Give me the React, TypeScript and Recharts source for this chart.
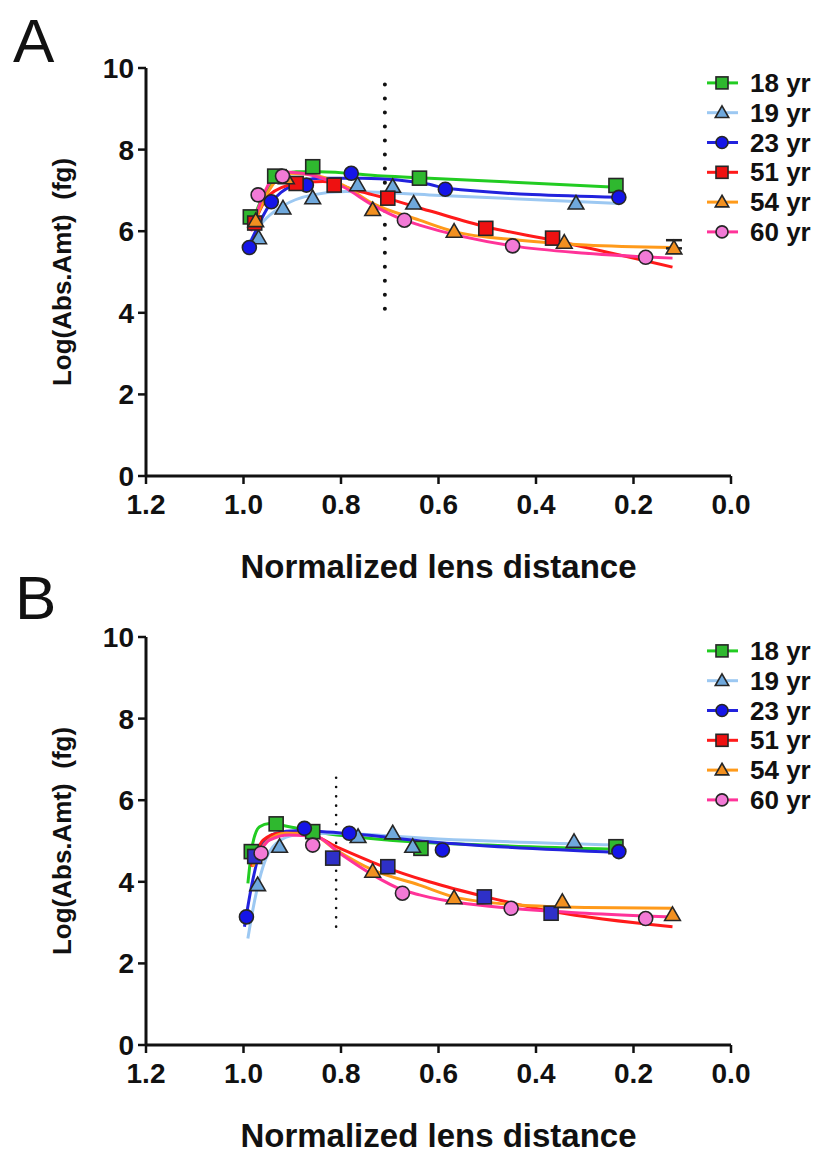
import React from 'react';
import { ComposedChart, Line, Scatter, XAxis, YAxis, ReferenceLine, ErrorBar, Label } from 'recharts';

type P = { x: number; y: number; err?: number[] };

// ---------- shared axis / legend data ----------
const xTicks = [1.2, 1.0, 0.8, 0.6, 0.4, 0.2, 0.0];
const yTicks = [0, 2, 4, 6, 8, 10];
const seriesNames = ['18 yr', '19 yr', '23 yr', '51 yr', '54 yr', '60 yr'];

// ---------- Panel A: measured points ----------
const a18: P[] = [{ x: 0.986, y: 6.35 }, { x: 0.936, y: 7.35 }, { x: 0.858, y: 7.58 }, { x: 0.639, y: 7.3 }, { x: 0.236, y: 7.12 }];
const a19: P[] = [{ x: 0.969, y: 5.83 }, { x: 0.919, y: 6.56 }, { x: 0.858, y: 6.81 }, { x: 0.766, y: 7.13 }, { x: 0.694, y: 7.09 }, { x: 0.651, y: 6.68 }, { x: 0.318, y: 6.68 }];
const a23: P[] = [{ x: 0.988, y: 5.6 }, { x: 0.943, y: 6.72 }, { x: 0.871, y: 7.13 }, { x: 0.779, y: 7.42 }, { x: 0.586, y: 7.03 }, { x: 0.23, y: 6.83 }];
const a51: P[] = [{ x: 0.977, y: 6.2 }, { x: 0.892, y: 7.17 }, { x: 0.814, y: 7.13 }, { x: 0.704, y: 6.81 }, { x: 0.503, y: 6.07 }, { x: 0.366, y: 5.83 }];
const a54: P[] = [{ x: 0.975, y: 6.25 }, { x: 0.912, y: 7.3 }, { x: 0.735, y: 6.52 }, { x: 0.568, y: 5.99 }, { x: 0.342, y: 5.72 }, { x: 0.117, y: 5.58 }];
const a60: P[] = [{ x: 0.97, y: 6.89 }, { x: 0.92, y: 7.35 }, { x: 0.67, y: 6.27 }, { x: 0.448, y: 5.64 }, { x: 0.175, y: 5.36 }];
const aErr: P[] = [{ x: 0.117, y: 5.58, err: [0, 0.2] }];

// ---------- Panel A: fitted curves ----------
const c18: P[] = [{ x: 0.988, y: 6.03 }, { x: 0.96, y: 6.85 }, { x: 0.926, y: 7.3 }, { x: 0.892, y: 7.46 }, { x: 0.844, y: 7.46 }, { x: 0.715, y: 7.35 }, { x: 0.619, y: 7.3 }, { x: 0.236, y: 7.08 }];
const c19: P[] = [{ x: 0.991, y: 5.66 }, { x: 0.96, y: 6.23 }, { x: 0.919, y: 6.62 }, { x: 0.858, y: 6.89 }, { x: 0.79, y: 6.97 }, { x: 0.619, y: 6.89 }, { x: 0.23, y: 6.68 }];
const c23: P[] = [{ x: 0.991, y: 5.58 }, { x: 0.947, y: 6.64 }, { x: 0.899, y: 7.13 }, { x: 0.844, y: 7.3 }, { x: 0.756, y: 7.3 }, { x: 0.619, y: 7.15 }, { x: 0.585, y: 7.05 }, { x: 0.23, y: 6.83 }];
const c51: P[] = [{ x: 0.981, y: 6.11 }, { x: 0.947, y: 6.89 }, { x: 0.892, y: 7.17 }, { x: 0.837, y: 7.22 }, { x: 0.769, y: 7.0 }, { x: 0.708, y: 6.81 }, { x: 0.619, y: 6.5 }, { x: 0.503, y: 6.11 }, { x: 0.366, y: 5.78 }, { x: 0.12, y: 5.12 }];
const c54: P[] = [{ x: 0.981, y: 6.11 }, { x: 0.95, y: 6.95 }, { x: 0.912, y: 7.42 }, { x: 0.87, y: 7.4 }, { x: 0.796, y: 7.13 }, { x: 0.735, y: 6.68 }, { x: 0.639, y: 6.27 }, { x: 0.568, y: 5.99 }, { x: 0.434, y: 5.78 }, { x: 0.298, y: 5.66 }, { x: 0.12, y: 5.6 }];
const c60: P[] = [{ x: 0.985, y: 6.0 }, { x: 0.955, y: 7.0 }, { x: 0.926, y: 7.46 }, { x: 0.88, y: 7.42 }, { x: 0.796, y: 7.09 }, { x: 0.735, y: 6.64 }, { x: 0.67, y: 6.27 }, { x: 0.639, y: 6.15 }, { x: 0.448, y: 5.64 }, { x: 0.298, y: 5.46 }, { x: 0.12, y: 5.34 }];

// ---------- Panel B: measured points ----------
const b18: P[] = [{ x: 0.984, y: 4.74 }, { x: 0.933, y: 5.42 }, { x: 0.858, y: 5.23 }, { x: 0.636, y: 4.82 }, { x: 0.236, y: 4.86 }];
const b19: P[] = [{ x: 0.971, y: 3.92 }, { x: 0.926, y: 4.86 }, { x: 0.765, y: 5.1 }, { x: 0.694, y: 5.19 }, { x: 0.653, y: 4.86 }, { x: 0.322, y: 4.98 }];
const b23: P[] = [{ x: 0.994, y: 3.14 }, { x: 0.875, y: 5.31 }, { x: 0.783, y: 5.19 }, { x: 0.592, y: 4.78 }, { x: 0.23, y: 4.74 }];
const b51: P[] = [{ x: 0.977, y: 4.62 }, { x: 0.817, y: 4.58 }, { x: 0.704, y: 4.37 }, { x: 0.506, y: 3.63 }, { x: 0.369, y: 3.23 }];
const b54: P[] = [{ x: 0.735, y: 4.25 }, { x: 0.568, y: 3.6 }, { x: 0.346, y: 3.51 }, { x: 0.12, y: 3.19 }];
const b60: P[] = [{ x: 0.964, y: 4.7 }, { x: 0.858, y: 4.9 }, { x: 0.674, y: 3.72 }, { x: 0.451, y: 3.35 }, { x: 0.175, y: 3.1 }];

// ---------- Panel B: fitted curves ----------
const d18: P[] = [{ x: 0.991, y: 3.96 }, { x: 0.981, y: 4.94 }, { x: 0.967, y: 5.35 }, { x: 0.947, y: 5.43 }, { x: 0.906, y: 5.35 }, { x: 0.85, y: 5.22 }, { x: 0.7, y: 5.02 }, { x: 0.5, y: 4.9 }, { x: 0.236, y: 4.8 }];
const d19: P[] = [{ x: 0.991, y: 2.61 }, { x: 0.977, y: 3.55 }, { x: 0.96, y: 4.37 }, { x: 0.933, y: 4.94 }, { x: 0.892, y: 5.15 }, { x: 0.824, y: 5.19 }, { x: 0.6, y: 5.05 }, { x: 0.23, y: 4.9 }];
const d23: P[] = [{ x: 0.998, y: 2.9 }, { x: 0.981, y: 4.04 }, { x: 0.96, y: 4.94 }, { x: 0.933, y: 5.19 }, { x: 0.892, y: 5.25 }, { x: 0.79, y: 5.19 }, { x: 0.619, y: 4.98 }, { x: 0.23, y: 4.72 }];
const d51: P[] = [{ x: 0.984, y: 4.37 }, { x: 0.96, y: 5.02 }, { x: 0.926, y: 5.19 }, { x: 0.871, y: 5.19 }, { x: 0.81, y: 4.86 }, { x: 0.721, y: 4.41 }, { x: 0.619, y: 4.0 }, { x: 0.503, y: 3.63 }, { x: 0.366, y: 3.27 }, { x: 0.12, y: 2.9 }];
const d54: P[] = [{ x: 0.981, y: 4.37 }, { x: 0.953, y: 4.98 }, { x: 0.912, y: 5.19 }, { x: 0.858, y: 5.15 }, { x: 0.81, y: 4.78 }, { x: 0.735, y: 4.29 }, { x: 0.639, y: 3.92 }, { x: 0.568, y: 3.63 }, { x: 0.434, y: 3.43 }, { x: 0.298, y: 3.37 }, { x: 0.12, y: 3.35 }];
const d60: P[] = [{ x: 0.977, y: 4.49 }, { x: 0.947, y: 5.02 }, { x: 0.906, y: 5.15 }, { x: 0.851, y: 5.11 }, { x: 0.803, y: 4.7 }, { x: 0.735, y: 4.17 }, { x: 0.674, y: 3.8 }, { x: 0.639, y: 3.68 }, { x: 0.451, y: 3.35 }, { x: 0.298, y: 3.23 }, { x: 0.12, y: 3.14 }];

// dotted marker lines: [x, yLow, yHigh]
const aDotted = [0.71, 4.1, 9.6];
const bDotted = [0.81, 2.9, 6.65];

// ---------- styles ----------
const FONT = 'Arial, "Liberation Sans", Helvetica, sans-serif';
type Kind = 'square' | 'triangle' | 'circle';
const STYLES: { kind: Kind; fill: string; line: string }[] = [
  { kind: 'square', fill: '#2fb82f', line: '#22cc22' },
  { kind: 'triangle', fill: '#6fa8dc', line: '#9cc8f2' },
  { kind: 'circle', fill: '#1515e8', line: '#2222dd' },
  { kind: 'square', fill: '#ee1111', line: '#ff1a1a' },
  { kind: 'triangle', fill: '#f29020', line: '#ff9a1a' },
  { kind: 'circle', fill: '#f27ad6', line: '#ff3399' },
];

function Marker({ cx, cy, kind, fill, s = 14 }: { cx?: number; cy?: number; kind: Kind; fill: string; s?: number }) {
  if (cx == null || cy == null || isNaN(cx) || isNaN(cy)) return null;
  const st = { fill, stroke: '#262626', strokeWidth: 1.6 };
  if (kind === 'square') return <rect x={cx - s / 2} y={cy - s / 2} width={s} height={s} {...st} />;
  if (kind === 'circle') return <circle cx={cx} cy={cy} r={s / 2} {...st} />;
  const h = s * 0.95;
  return <polygon points={`${cx},${cy - h * 0.6} ${cx + s * 0.56},${cy + h * 0.42} ${cx - s * 0.56},${cy + h * 0.42}`} {...st} />;
}

function LegendBox({ left, top }: { left: number; top: number }) {
  const rh = 29.8;
  return (
    <svg width={132} height={rh * 6 + 4} style={{ position: 'absolute', left, top, overflow: 'visible' }}>
      {seriesNames.map((n, i) => {
        const y = rh / 2 + i * rh;
        const st = STYLES[i];
        return (
          <g key={n}>
            <line x1={2} x2={33} y1={y} y2={y} stroke={st.line} strokeWidth={3} />
            <Marker cx={17} cy={y} kind={st.kind} fill={st.fill} s={12} />
            <text x={45} y={y} dominantBaseline="central" fontFamily={FONT} fontWeight="bold" fontSize={26} fill="#111">{n}</text>
          </g>
        );
      })}
    </svg>
  );
}

const tickStyle = { fill: '#111', fontSize: 28, fontWeight: 'bold', fontFamily: FONT } as any;

function Panel({ pts, curves, dotted, dotW, dotGap, top, height, mTop, axisH, legendTop, markerFills, errPts }: {
  pts: P[][]; curves: P[][]; dotted: number[]; dotW: number; dotGap: number; top: number; height: number; mTop: number; axisH: number;
  legendTop: number; markerFills: string[]; errPts?: P[];
}) {
  return (
    <div style={{ position: 'absolute', left: 0, top, width: 837, height }}>
      <ComposedChart width={837} height={height} margin={{ top: mTop, right: 106, bottom: 0, left: 0 }}>
        <XAxis
          type="number" dataKey="x" domain={[0, 1.2]} reversed ticks={xTicks} interval={0}
          tickFormatter={(v: number) => v.toFixed(1)} height={axisH}
          axisLine={{ stroke: '#111', strokeWidth: 3 }} tickLine={{ stroke: '#111', strokeWidth: 2.5 }}
          tickSize={8} tickMargin={10} tick={tickStyle} allowDataOverflow
        >
          <Label
            content={(p: any) => {
              const vb = p.viewBox;
              return (
                <text x={vb.x + vb.width / 2} y={vb.y + 102} textAnchor="middle" fontFamily={FONT} fontWeight="bold" fontSize={33} fill="#111">
                  Normalized lens distance
                </text>
              );
            }}
          />
        </XAxis>
        <YAxis
          type="number" domain={[0, 10]} ticks={yTicks} interval={0} width={146}
          axisLine={{ stroke: '#111', strokeWidth: 3 }} tickLine={{ stroke: '#111', strokeWidth: 2.5 }}
          tickSize={8} tickMargin={4} tick={tickStyle} allowDataOverflow
        >
          <Label
            content={(p: any) => {
              const vb = p.viewBox;
              const cx = vb.x + 62;
              const cy = vb.y + vb.height / 2;
              return (
                <text x={cx} y={cy} transform={`rotate(-90, ${cx}, ${cy})`} textAnchor="middle" dominantBaseline="central" fontFamily={FONT} fontWeight="bold" fontSize={26} fill="#111" style={{ whiteSpace: 'pre' }}>
                  {'Log(Abs.Amt)  (fg)'}
                </text>
              );
            }}
          />
        </YAxis>
        <ReferenceLine
          segment={[{ x: dotted[0], y: dotted[1] }, { x: dotted[0], y: dotted[2] }]}
          stroke="#111" strokeWidth={dotW} strokeDasharray={`0.01 ${dotGap}`} strokeLinecap="round"
        />
        {curves.map((c, i) => (
          <Line key={'l' + i} data={c} dataKey="y" type="monotone" stroke={STYLES[i].line} strokeWidth={3} dot={false} activeDot={false} isAnimationActive={false} />
        ))}
        {errPts && (
          <Scatter data={errPts} dataKey="y" shape={() => null} isAnimationActive={false}>
            <ErrorBar dataKey="err" direction="y" width={8} stroke="#222" strokeWidth={2.5} />
          </Scatter>
        )}
        {pts.map((d, i) => (
          <Scatter key={'s' + i} data={d} dataKey="y" isAnimationActive={false}
            shape={(p: any) => <Marker cx={p.cx} cy={p.cy} kind={STYLES[i].kind} fill={markerFills[i]} />} />
        ))}
      </ComposedChart>
      <LegendBox left={705} top={legendTop} />
    </div>
  );
}

export default function App() {
  const fillsA = STYLES.map((s) => s.fill);
  const fillsB = STYLES.map((s, i) => (i === 3 ? '#2e30c8' : s.fill));
  return (
    <div style={{ position: 'absolute', left: 0, top: 0, width: 837, height: 1153, background: '#fff', fontFamily: FONT }}>
      <Panel pts={[a18, a19, a23, a51, a54, a60]} curves={[c18, c19, c23, c51, c54, c60]} dotted={aDotted} dotW={4} dotGap={14}
        top={0} height={600} mTop={68} axisH={124} legendTop={68} markerFills={fillsA} errPts={aErr} />
      <Panel pts={[b18, b19, b23, b51, b54, b60]} curves={[d18, d19, d23, d51, d54, d60]} dotted={bDotted} dotW={2.6} dotGap={9.3}
        top={576} height={577} mTop={61} axisH={108} legendTop={60} markerFills={fillsB} />
      <svg width={837} height={1153} style={{ position: 'absolute', left: 0, top: 0, pointerEvents: 'none' }}>
        <text x={13} y={62} fontFamily={FONT} fontSize={62} fill="#111">A</text>
        <text x={15} y={619} fontFamily={FONT} fontSize={62} fill="#111">B</text>
      </svg>
    </div>
  );
}
